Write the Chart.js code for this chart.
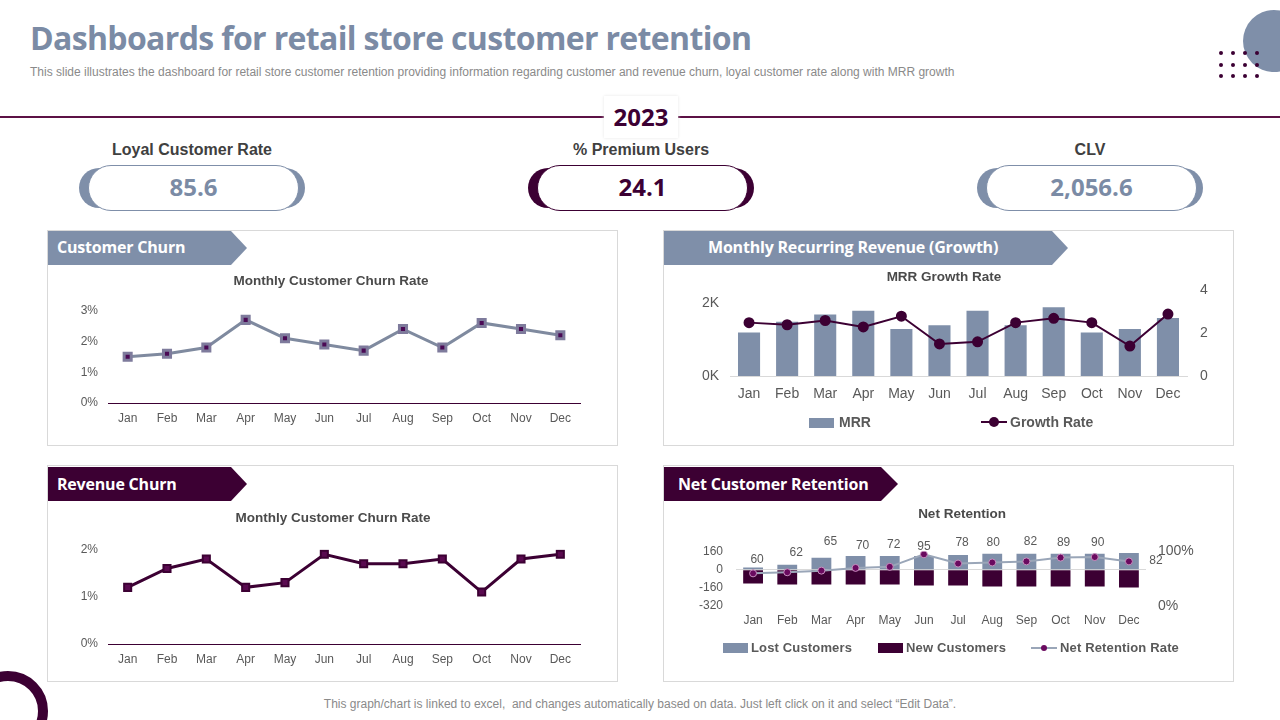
<!DOCTYPE html>
<html>
<head>
<meta charset="utf-8">
<title>Dashboards for retail store customer retention</title>
<script src="https://cdn.jsdelivr.net/npm/chart.js@4"></script>
<style>
  html, body { margin: 0; padding: 0; background: #fff; }
  body { position: relative; width: 1280px; height: 720px; overflow: hidden; font-family: "Liberation Sans", sans-serif; }
  .abs { position: absolute; white-space: nowrap; }
  h1 { position: absolute; left: 30px; top: 16px; margin: 0; font: 700 32px "Open Sans", sans-serif; letter-spacing: -0.65px; color: #7b8ba5; white-space: nowrap; }
  .sub { left: 30px; top: 65px; font-size: 12px; color: #8a8a8a; }
  .rule { left: 0; top: 116px; width: 1280px; height: 2px; background: #5c1145; }
  .year { left: 604px; top: 96px; width: 74px; height: 42px; background: #fff; box-shadow: 0 0 3px #e6e6e6; text-align: center; font: 700 24px/42px "Open Sans", sans-serif; color: #3c0033; }
  .kpi-label { width: 300px; text-align: center; font-size: 16px; font-weight: 700; color: #404040; top: 141px; }
  .kpi-back { top: 168px; width: 226px; height: 40px; border-radius: 22px; }
  .kpi-val { top: 165px; width: 209px; height: 44px; border-radius: 23px; background: #fff; text-align: center; font: 700 24px/42px "Open Sans", sans-serif; }
  .panel { width: 569px; height: 214px; border: 1px solid #d9d9d9; box-sizing: content-box; }
  .ribbon { height: 34px; color: #fff; font: 700 16px/32px "Open Sans", sans-serif; letter-spacing: -0.2px; box-sizing: border-box; }
  canvas { position: absolute; }
  .leg { font-size: 14px; font-weight: 700; color: #595959; }
  .leg2 { font-size: 13px; font-weight: 700; color: #595959; letter-spacing: .15px; }
  .key-bar { height: 10px; width: 25px; }
  .key-line { height: 2px; width: 26px; }
  .key-dot { border-radius: 50%; }
  .foot { left: 0; width: 1280px; top: 697px; text-align: center; font-size: 12px; color: #8a8a8a; }
  .dot { width: 4px; height: 4px; border-radius: 50%; background: #3c0033; }
</style>
</head>
<body>
<h1>Dashboards for retail store customer retention</h1>
<div class="abs sub">This slide illustrates the dashboard for retail store customer retention providing information regarding customer and revenue churn, loyal customer rate along with MRR growth</div>
<div class="abs" style="left:1243px;top:10px;width:62px;height:62px;border-radius:50%;background:#7f8fa9"></div>
<div id="dots"></div>
<div class="abs" style="left:-32px;top:671px;width:80px;height:80px;border-radius:50%;border:10px solid #3c0033;box-sizing:border-box"></div>
<div class="abs rule"></div>
<div class="abs year">2023</div>

<div class="abs kpi-label" style="left:42px">Loyal Customer Rate</div>
<div class="abs kpi-back" style="left:79px;background:#7f8fa9"></div>
<div class="abs kpi-val" style="left:88px;border:1px solid #7f8fa9;color:#7b8ba5">85.6</div>
<div class="abs kpi-label" style="left:491px">% Premium Users</div>
<div class="abs kpi-back" style="left:528px;background:#3c0033"></div>
<div class="abs kpi-val" style="left:537px;border:1px solid #3c0033;color:#3c0033">24.1</div>
<div class="abs kpi-label" style="left:940px">CLV</div>
<div class="abs kpi-back" style="left:977px;background:#7f8fa9"></div>
<div class="abs kpi-val" style="left:986px;border:1px solid #7f8fa9;color:#7b8ba5">2,056.6</div>

<div class="abs panel" style="left:47px;top:230px"></div>
<div class="abs panel" style="left:663px;top:230px"></div>
<div class="abs panel" style="left:47px;top:465px;height:215px"></div>
<div class="abs panel" style="left:663px;top:465px;height:215px"></div>

<canvas id="churnChart" width="566" height="214" style="left:48px;top:231px"></canvas>
<canvas id="mrrChart" width="569" height="214" style="left:664px;top:231px"></canvas>
<canvas id="revChart" width="570" height="214" style="left:48px;top:467px"></canvas>
<canvas id="netChart" width="569" height="214" style="left:664px;top:467px"></canvas>

<div class="abs ribbon" style="left:48px;top:231px;width:199px;padding-left:9px;background:#7f8fa9;clip-path:polygon(0 0,183px 0,100% 50%,183px 100%,0 100%)">Customer Churn</div>
<div class="abs ribbon" style="left:664px;top:231px;width:404px;padding-left:44px;background:#7f8fa9;clip-path:polygon(0 0,388px 0,100% 50%,388px 100%,0 100%)">Monthly Recurring Revenue (Growth)</div>
<div class="abs ribbon" style="left:48px;top:467px;width:199px;padding-left:9px;line-height:34px;background:#3c0033;clip-path:polygon(0 0,183px 0,100% 50%,183px 100%,0 100%)">Revenue Churn</div>
<div class="abs ribbon" style="left:664px;top:467px;width:234px;padding-left:14px;line-height:34px;background:#3c0033;clip-path:polygon(0 0,217px 0,100% 50%,217px 100%,0 100%)">Net Customer Retention</div>

<!-- legends -->
<div class="abs key-bar" style="left:809px;top:418px;background:#7f8fa9"></div>
<div class="abs leg" style="left:839px;top:414px">MRR</div>
<div class="abs key-line" style="left:981px;top:421px;background:#3c0033"></div>
<div class="abs key-dot" style="left:989px;top:417px;width:10px;height:10px;background:#3c0033"></div>
<div class="abs leg" style="left:1010px;top:414px">Growth Rate</div>

<div class="abs key-bar" style="left:723px;top:643px;background:#7f8fa9"></div>
<div class="abs leg2" style="left:751px;top:640px">Lost Customers</div>
<div class="abs key-bar" style="left:878px;top:643px;background:#3c0033"></div>
<div class="abs leg2" style="left:906px;top:640px">New Customers</div>
<div class="abs key-line" style="left:1031px;top:647px;background:#9aa6b8"></div>
<div class="abs key-dot" style="left:1041px;top:645px;width:6px;height:6px;background:#6a0a5f"></div>
<div class="abs leg2" style="left:1060px;top:640px">Net Retention Rate</div>

<div class="abs foot">This graph/chart is linked to excel,&nbsp; and changes automatically based on data. Just left click on it and select &ldquo;Edit Data&rdquo;.</div>

<script>
// Data
const months = ["Jan", "Feb", "Mar", "Apr", "May", "Jun", "Jul", "Aug", "Sep", "Oct", "Nov", "Dec"];
const customerChurn = [1.5, 1.6, 1.8, 2.7, 2.1, 1.9, 1.7, 2.4, 1.8, 2.6, 2.4, 2.2];
const revenueChurn = [1.2, 1.6, 1.8, 1.2, 1.3, 1.9, 1.7, 1.7, 1.8, 1.1, 1.8, 1.9];
const mrr = [1200, 1500, 1700, 1800, 1300, 1400, 1800, 1400, 1900, 1200, 1300, 1600];
const mrrTicks = [0, 2000];
const growthRate = [2.5, 2.4, 2.6, 2.3, 2.8, 1.5, 1.6, 2.5, 2.7, 2.5, 1.4, 2.9];
const lostCustomers = [20, 44, 105, 122, 122, 122, 130, 140, 140, 140, 140, 148];
const newCustomers = [-122, -130, -130, -130, -130, -140, -140, -148, -148, -148, -148, -157];
const netRetention = [60, 62, 65, 70, 72, 95, 78, 80, 82, 89, 90, 82];

const SLATE = "#7f8fa9";
const DARK = "#3c0033";
const TICK = "#595959";
const FONT = "'Liberation Sans', sans-serif";

// decoration dots top right
let dotsHtml = "";
[53, 64.5, 76].forEach((y) => {
  [1221, 1233, 1245, 1257].forEach((x) => {
    dotsHtml += `<div class="abs dot" style="left:${x - 2}px;top:${y - 2}px"></div>`;
  });
});
document.getElementById("dots").innerHTML = dotsHtml;

// moves the title sideways, the original titles are not centred on the panels
const titleShift = {
  id: "titleShift",
  afterLayout(chart, args, opts) {
    chart.titleBlock.left += opts.dx || 0;
    chart.titleBlock.right += opts.dx || 0;
  },
};

// value labels of the retention line, each sits at its own place in the original
const pointLabels = {
  id: "pointLabels",
  afterDatasetsDraw(chart, args, opts) {
    if (!opts.offsets) return;
    const ctx = chart.ctx;
    const meta = chart.getDatasetMeta(opts.dataset);
    ctx.save();
    ctx.font = "12px " + FONT;
    ctx.fillStyle = TICK;
    ctx.textAlign = "center";
    ctx.textBaseline = "middle";
    meta.data.forEach((pt, i) => {
      const off = opts.offsets[i];
      ctx.fillText(chart.data.datasets[opts.dataset].data[i], pt.x + off[0], pt.y + off[1]);
    });
    ctx.restore();
  },
};
Chart.register(titleShift, pointLabels);

function baseOptions(title, pad, dx) {
  return {
    responsive: false,
    animation: false,
    layout: { padding: { left: pad.left, right: pad.right, top: 0, bottom: 0 } },
    plugins: {
      legend: { display: false },
      tooltip: { enabled: false },
      titleShift: { dx: dx || 0 },
      title: {
        display: true,
        text: title,
        color: "#4a4a4a",
        font: { family: FONT, size: 13.5, weight: "bold", lineHeight: 1.2 },
        padding: { top: pad.titleTop, bottom: pad.titleBottom },
      },
    },
  };
}

function xAxis(height, tickPad, size, lineColor) {
  return {
    offset: true,
    grid: { display: false, drawTicks: false },
    border: { display: true, color: lineColor, width: 1 },
    ticks: { color: TICK, font: { family: FONT, size: size }, padding: tickPad, autoSkip: false, maxRotation: 0 },
    afterFit: (s) => { s.height = height; },
  };
}

function yAxis(width, tickPad, size, extra) {
  return Object.assign({
    grid: { display: false, drawTicks: false },
    border: { display: false },
    afterFit: (s) => { s.width = width; },
  }, extra, {
    ticks: Object.assign({ color: TICK, font: { family: FONT, size: size }, padding: tickPad }, extra.ticks),
  });
}

// Customer churn
new Chart(document.getElementById("churnChart"), {
  type: "line",
  data: {
    labels: months,
    datasets: [{
      data: customerChurn,
      borderColor: "#7f8a9f",
      borderWidth: 3,
      tension: 0,
      pointStyle: "rect",
      pointRadius: 5,
      pointBorderWidth: 3,
      pointBackgroundColor: "#4b0a55",
      pointBorderColor: "#7e7b9c",
    }],
  },
  options: Object.assign(baseOptions("Monthly Customer Churn Rate", { left: 0, right: 34, titleTop: 42, titleBottom: 21.4 }, 17), {
    scales: {
      x: xAxis(42, 8, 12, DARK),
      y: yAxis(60, 10, 12, { min: 0, max: 3, ticks: { stepSize: 1, callback: (v) => v + "%" } }),
    },
  }),
});

// Revenue churn
new Chart(document.getElementById("revChart"), {
  type: "line",
  data: {
    labels: months,
    datasets: [{
      data: revenueChurn,
      borderColor: DARK,
      borderWidth: 3,
      tension: 0,
      pointStyle: "rect",
      pointRadius: 5,
      pointBorderWidth: 2,
      pointBackgroundColor: "#5a0a50",
      pointBorderColor: DARK,
    }],
  },
  options: Object.assign(baseOptions("Monthly Customer Churn Rate", { left: 0, right: 38, titleTop: 43, titleBottom: 23.4 }, 19), {
    scales: {
      x: xAxis(37, 8, 12, DARK),
      y: yAxis(60, 10, 12, { min: 0, max: 2, ticks: { stepSize: 1, callback: (v) => v + "%" } }),
    },
  }),
});

// MRR and growth rate
new Chart(document.getElementById("mrrChart"), {
  type: "bar",
  data: {
    labels: months,
    datasets: [
      { type: "line", data: growthRate, yAxisID: "y2", order: 0, borderColor: DARK, borderWidth: 2, tension: 0,
        pointRadius: 4.5, pointBackgroundColor: DARK, pointBorderColor: DARK },
      { type: "bar", data: mrr, yAxisID: "y", order: 1, backgroundColor: SLATE, barPercentage: 0.58, categoryPercentage: 1 },
    ],
  },
  options: Object.assign(baseOptions("MRR Growth Rate", { left: 0, right: 0, titleTop: 38, titleBottom: 5.4 }, -4.5), {
    scales: {
      x: xAxis(69, 10, 14, "#d9d9d9"),
      y: yAxis(66, 11, 14, {
        min: 0, max: 2360,
        afterBuildTicks: (s) => { s.ticks = mrrTicks.map((v) => ({ value: v })); },
        ticks: { callback: (v) => v / 1000 + "K" },
      }),
      y2: yAxis(46, 13, 14, { position: "right", min: 0, max: 4, ticks: { stepSize: 2 } }),
    },
  }),
});

// Net retention
const netOptions = Object.assign(baseOptions("Net Retention", { left: 0, right: 0, titleTop: 39.5, titleBottom: 28.9 }, 13.5), {
  scales: {
    x: Object.assign(xAxis(75, 7, 12, "transparent"), { stacked: true }),
    y: yAxis(72, 13, 12, {
      stacked: true, min: -320, max: 160,
      grid: { drawTicks: false, color: (c) => (c.tick.value === 0 ? "#d9d9d9" : "transparent") },
      ticks: { stepSize: 160 },
    }),
    y2: yAxis(87, 12, 14, { position: "right", min: 0, max: 100, ticks: { stepSize: 100, callback: (v) => v + "%" } }),
  },
});
netOptions.plugins.pointLabels = {
  dataset: 0,
  offsets: [[4, -14], [9, -20], [9, -29], [7, -22], [4, -22], [0, -8], [4, -21], [1, -20], [4, -20], [3, -15], [3, -14], [27, -1]],
};
new Chart(document.getElementById("netChart"), {
  type: "bar",
  data: {
    labels: months,
    datasets: [
      { type: "line", data: netRetention, yAxisID: "y2", order: 0, borderColor: "#9aa6b8", borderWidth: 2, tension: 0,
        pointRadius: 3.5, pointBorderWidth: 1, pointBackgroundColor: "#6a0a5f", pointBorderColor: "#c98fc0" },
      { type: "bar", data: lostCustomers, stack: "c", order: 1, backgroundColor: SLATE, barPercentage: 0.58, categoryPercentage: 1 },
      { type: "bar", data: newCustomers, stack: "c", order: 1, backgroundColor: DARK, barPercentage: 0.58, categoryPercentage: 1 },
    ],
  },
  options: netOptions,
});
</script>
</body>
</html>
